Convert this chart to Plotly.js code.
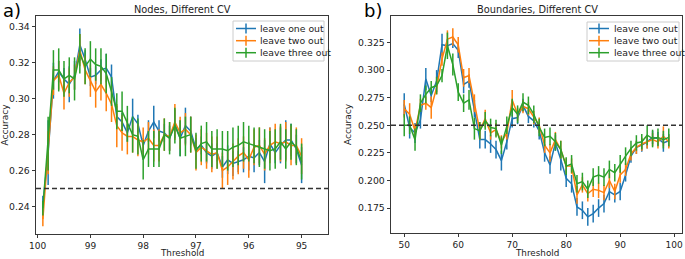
<!DOCTYPE html>
<html>
<head>
<meta charset="utf-8">
<script src="https://cdn.plot.ly/plotly-3.0.1.min.js"></script>
<style>html,body{margin:0;padding:0;background:#fff;}#chart{width:685px;height:259px;}</style>
</head>
<body>
<div id="chart"></div>
<script>
// ---- Data: panel a) Nodes, Different CV ----
const nodesThreshold = [99.9,99.8,99.7,99.6,99.5,99.4,99.3,99.2,99.1,99.0,
  98.9,98.8,98.7,98.6,98.5,98.4,98.3,98.2,98.1,98.0,
  97.9,97.8,97.7,97.6,97.5,97.4,97.3,97.2,97.1,97.0,
  96.9,96.8,96.7,96.6,96.5,96.4,96.3,96.2,96.1,96.0,
  95.9,95.8,95.7,95.6,95.5,95.4,95.3,95.2,95.1,95.0];
const nodesOne = [0.241,0.270,0.310,0.315,0.311,0.308,0.313,0.330,0.322,0.312,
  0.313,0.316,0.317,0.312,0.290,0.287,0.281,0.290,0.286,0.274,
  0.282,0.287,0.282,0.281,0.278,0.286,0.278,0.285,0.282,0.272,
  0.274,0.270,0.268,0.270,0.262,0.266,0.264,0.265,0.266,0.268,
  0.267,0.270,0.265,0.275,0.270,0.274,0.277,0.277,0.272,0.263];
const nodesOneErr = [0.005,0.018,0.010,0.006,0.006,0.010,0.008,0.009,0.005,0.005,
  0.005,0.006,0.008,0.007,0.006,0.005,0.005,0.010,0.005,0.004,
  0.006,0.009,0.006,0.005,0.007,0.008,0.010,0.010,0.008,0.006,
  0.005,0.006,0.007,0.005,0.006,0.008,0.007,0.006,0.007,0.008,
  0.008,0.007,0.012,0.009,0.006,0.010,0.011,0.009,0.008,0.010];
const nodesTwo = [0.233,0.270,0.310,0.313,0.303,0.309,0.312,0.327,0.316,0.310,
  0.304,0.308,0.303,0.297,0.285,0.281,0.279,0.279,0.277,0.276,
  0.278,0.274,0.274,0.280,0.279,0.287,0.281,0.283,0.280,0.270,
  0.273,0.271,0.269,0.270,0.260,0.262,0.265,0.268,0.270,0.266,
  0.273,0.274,0.269,0.274,0.276,0.275,0.276,0.274,0.274,0.268];
const nodesTwoErr = [0.004,0.012,0.008,0.008,0.009,0.008,0.007,0.009,0.008,0.009,
  0.009,0.009,0.010,0.010,0.012,0.010,0.010,0.009,0.009,0.008,
  0.009,0.009,0.009,0.009,0.008,0.010,0.009,0.009,0.010,0.010,
  0.010,0.010,0.010,0.009,0.010,0.010,0.010,0.010,0.009,0.010,
  0.010,0.010,0.009,0.010,0.010,0.010,0.011,0.011,0.010,0.010];
const nodesThree = [0.239,0.275,0.316,0.316,0.311,0.313,0.311,0.325,0.318,0.322,
  0.319,0.318,0.314,0.304,0.293,0.293,0.286,0.280,0.279,0.266,
  0.272,0.272,0.272,0.280,0.278,0.285,0.278,0.279,0.280,0.271,
  0.275,0.276,0.272,0.272,0.272,0.271,0.273,0.274,0.276,0.275,
  0.274,0.273,0.272,0.271,0.272,0.276,0.272,0.276,0.273,0.265];
const nodesThreeErr = [0.004,0.015,0.011,0.012,0.010,0.010,0.012,0.011,0.010,0.010,
  0.009,0.010,0.011,0.008,0.010,0.011,0.010,0.010,0.010,0.011,
  0.010,0.010,0.010,0.009,0.009,0.010,0.010,0.011,0.010,0.010,
  0.010,0.011,0.010,0.011,0.010,0.011,0.011,0.011,0.011,0.010,
  0.010,0.011,0.011,0.011,0.011,0.010,0.011,0.010,0.010,0.010];

// ---- Data: panel b) Boundaries, Different CV ----
const bndThreshold = [50,51,52,53,54,55,56,57,58,59,60,61,62,63,64,65,66,67,68,69,
  70,71,72,73,74,75,76,77,78,79,80,81,82,83,84,85,86,87,88,89,
  90,91,92,93,94,95,96,97,98,99];
const bndOne = [0.269,0.248,0.243,0.255,0.292,0.277,0.290,0.323,0.322,0.324,
  0.318,0.287,0.290,0.265,0.237,0.237,0.233,0.228,0.218,0.235,
  0.256,0.257,0.268,0.258,0.254,0.245,0.225,0.214,0.234,0.219,
  0.202,0.197,0.176,0.173,0.167,0.170,0.175,0.179,0.190,0.187,
  0.190,0.205,0.222,0.230,0.232,0.235,0.239,0.238,0.234,0.236];
const bndOneErr = [0.010,0.010,0.009,0.008,0.010,0.006,0.010,0.010,0.006,0.004,
  0.007,0.008,0.006,0.008,0.008,0.008,0.008,0.008,0.009,0.007,
  0.008,0.006,0.006,0.006,0.006,0.008,0.008,0.008,0.007,0.010,
  0.008,0.008,0.008,0.008,0.008,0.008,0.008,0.008,0.008,0.007,
  0.008,0.006,0.006,0.006,0.006,0.006,0.006,0.006,0.008,0.006];
const bndTwo = [0.265,0.260,0.245,0.268,0.270,0.266,0.284,0.310,0.328,0.330,
  0.323,0.293,0.295,0.270,0.245,0.256,0.243,0.246,0.235,0.243,
  0.273,0.260,0.267,0.265,0.257,0.250,0.232,0.225,0.237,0.228,
  0.213,0.213,0.187,0.196,0.188,0.192,0.191,0.189,0.200,0.190,
  0.205,0.210,0.224,0.230,0.233,0.235,0.237,0.235,0.240,0.235];
const bndTwoErr = [0.008,0.010,0.006,0.006,0.006,0.010,0.006,0.006,0.008,0.008,
  0.007,0.008,0.007,0.008,0.008,0.008,0.006,0.006,0.006,0.006,
  0.009,0.006,0.006,0.006,0.006,0.007,0.007,0.008,0.007,0.008,
  0.007,0.007,0.008,0.007,0.007,0.007,0.007,0.007,0.007,0.007,
  0.007,0.006,0.006,0.006,0.006,0.006,0.006,0.006,0.009,0.006];
const bndThree = [0.250,0.250,0.237,0.270,0.278,0.284,0.286,0.295,0.322,0.305,
  0.280,0.270,0.273,0.247,0.245,0.254,0.248,0.247,0.232,0.250,
  0.266,0.260,0.271,0.268,0.260,0.248,0.239,0.240,0.235,0.228,
  0.213,0.215,0.197,0.199,0.192,0.203,0.205,0.203,0.210,0.207,
  0.215,0.222,0.229,0.234,0.235,0.241,0.238,0.239,0.237,0.239];
const bndThreeErr = [0.010,0.008,0.010,0.008,0.008,0.006,0.008,0.006,0.012,0.010,
  0.008,0.008,0.009,0.010,0.008,0.008,0.008,0.008,0.008,0.008,
  0.008,0.008,0.008,0.008,0.008,0.008,0.008,0.008,0.008,0.008,
  0.008,0.008,0.008,0.008,0.008,0.008,0.008,0.008,0.008,0.008,
  0.008,0.008,0.007,0.007,0.007,0.009,0.008,0.008,0.008,0.008];

const seriesNames = ["leave one out","leave two out","leave three out"];
const colors = ["#1f77b4","#ff7f0e","#2ca02c"];
const chanceLevel = 0.25;

function mk(x, y, err, i, xa, ya) {
  return {
    x: x, y: y, type: "scatter", mode: "lines",
    name: seriesNames[i], xaxis: xa, yaxis: ya, showlegend: false,
    line: {color: colors[i], width: 1.5},
    error_y: {type: "data", array: err, visible: true, width: 0, thickness: 1.5, color: colors[i]}
  };
}

const traces = [
  mk(nodesThreshold, nodesOne, nodesOneErr, 0, "x", "y"),
  mk(nodesThreshold, nodesTwo, nodesTwoErr, 1, "x", "y"),
  mk(nodesThreshold, nodesThree, nodesThreeErr, 2, "x", "y"),
  mk(bndThreshold, bndOne, bndOneErr, 0, "x2", "y2"),
  mk(bndThreshold, bndTwo, bndTwoErr, 1, "x2", "y2"),
  mk(bndThreshold, bndThree, bndThreeErr, 2, "x2", "y2")
];

const F = "DejaVu Sans, sans-serif";
const axBase = {
  showline: true, mirror: true, linecolor: "#222", linewidth: 0.9,
  ticks: "outside", ticklen: 3.5, tickwidth: 0.9, tickcolor: "#222",
  showgrid: false, zeroline: false,
  tickfont: {family: F, size: 9.3, color: "#222"}
};
const xTickFont = {family: F, size: 9, color: "#222"};
const W = 685, H = 259;
const px = v => v / W, py = v => 1 - v / H;

const shapes = [
  {type: "line", xref: "x domain", yref: "y", x0: 0, x1: 1, y0: chanceLevel, y1: chanceLevel,
   line: {color: "#333", width: 1.4, dash: "5px,3px"}},
  {type: "line", xref: "x2 domain", yref: "y2", x0: 0, x1: 1, y0: chanceLevel, y1: chanceLevel,
   line: {color: "#333", width: 1.4, dash: "5px,3px"}}
];
const annotations = [
  {text: "Nodes, Different CV", xref: "paper", yref: "paper", x: px(182), y: py(9), showarrow: false,
   xanchor: "center", yanchor: "middle", font: {family: F, size: 9.8, color: "#222"}},
  {text: "Boundaries, Different CV", xref: "paper", yref: "paper", x: px(537), y: py(9), showarrow: false,
   xanchor: "center", yanchor: "middle", font: {family: F, size: 9.8, color: "#222"}},
  {text: "a)", xref: "paper", yref: "paper", x: px(1), y: py(10), showarrow: false,
   xanchor: "left", yanchor: "middle", font: {family: F, size: 18, color: "#000"}},
  {text: "b)", xref: "paper", yref: "paper", x: px(362), y: py(10), showarrow: false,
   xanchor: "left", yanchor: "middle", font: {family: F, size: 18, color: "#000"}},
  // x-axis titles
  {text: "Threshold", xref: "paper", yref: "paper", x: px(182), y: 0, showarrow: false, borderpad: 0,
   xanchor: "center", yanchor: "bottom", font: {family: F, size: 8.8, color: "#222"}},
  {text: "Threshold", xref: "paper", yref: "paper", x: px(536.5), y: 0, showarrow: false, borderpad: 0,
   xanchor: "center", yanchor: "bottom", font: {family: F, size: 8.8, color: "#222"}}
];

// Custom legends (matplotlib style: compact box, line sample with vertical error tick)
function addLegend(bx0, bx1, by0, by1, lx0, lx1, tx, rows) {
  shapes.push({type: "rect", xref: "paper", yref: "paper", x0: px(bx0), x1: px(bx1), y0: py(by1), y1: py(by0),
    line: {color: "#cccccc", width: 1}, fillcolor: "rgba(255,255,255,0.8)", layer: "above"});
  rows.forEach((ry, i) => {
    shapes.push({type: "line", xref: "paper", yref: "paper", x0: px(lx0), x1: px(lx1), y0: py(ry), y1: py(ry),
      line: {color: colors[i], width: 1.5}, layer: "above"});
    const cx = (lx0 + lx1) / 2;
    shapes.push({type: "line", xref: "paper", yref: "paper", x0: px(cx), x1: px(cx), y0: py(ry - 5), y1: py(ry + 5),
      line: {color: colors[i], width: 1.5}, layer: "above"});
    annotations.push({text: seriesNames[i], xref: "paper", yref: "paper", x: px(tx), y: py(ry), showarrow: false,
      xanchor: "left", yanchor: "middle", font: {family: F, size: 9.3, color: "#222"}});
  });
}
addLegend(233, 324, 21, 61, 236, 256, 258, [28.5, 40.7, 52.7]);
addLegend(587, 679, 22, 61, 589, 609, 612, [28.5, 40.7, 52.7]);

const layout = {
  width: W, height: H,
  margin: {l: 0, r: 0, t: 0, b: 0},
  paper_bgcolor: "#fff", plot_bgcolor: "#fff",
  showlegend: false,
  xaxis: Object.assign({}, axBase, {domain: [px(36), px(328)], range: [100.03, 94.5],
    tickvals: [100,99,98,97,96,95], ticktext: ["100","99","98","97","96","95"], anchor: "y",
    ticklen: 3, tickfont: xTickFont}),
  yaxis: Object.assign({}, axBase, {domain: [py(234), py(16)], range: [0.2247, 0.346],
    tickvals: [0.24,0.26,0.28,0.30,0.32,0.34], ticktext: ["0.24","0.26","0.28","0.30","0.32","0.34"], anchor: "x",
    title: {text: "Accuracy", font: {family: F, size: 9, color: "#222"}, standoff: 4}}),
  xaxis2: Object.assign({}, axBase, {domain: [px(391), px(682)], range: [47.55, 101.45],
    tickvals: [50,60,70,80,90,100], anchor: "y2", ticklen: 3, tickfont: xTickFont}),
  yaxis2: Object.assign({}, axBase, {domain: [py(233), py(16)], range: [0.1524, 0.349],
    tickvals: [0.175,0.2,0.225,0.25,0.275,0.3,0.325], ticktext: ["0.175","0.200","0.225","0.250","0.275","0.300","0.325"], anchor: "x2",
    title: {text: "Accuracy", font: {family: F, size: 9, color: "#222"}, standoff: 4}}),
  shapes: shapes,
  annotations: annotations
};

Plotly.newPlot("chart", traces, layout, {displayModeBar: false, staticPlot: true});
</script>
</body>
</html>
